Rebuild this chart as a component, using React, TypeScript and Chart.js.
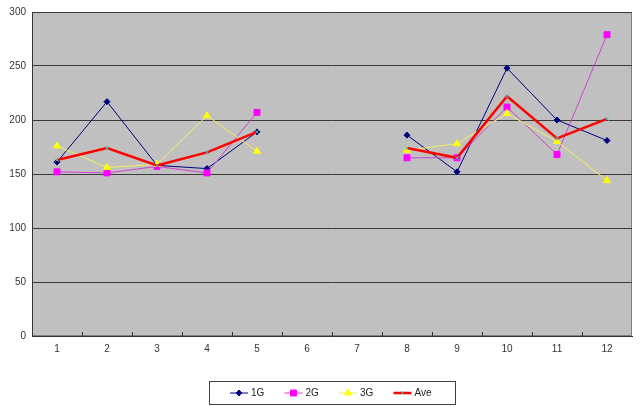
import React, { useEffect, useRef } from "react";
import { Chart, registerables } from "chart.js";

Chart.register(...registerables);

const categories = ["1", "2", "3", "4", "5", "6", "7", "8", "9", "10", "11", "12"];
const seriesNames = ["1G", "2G", "3G", "Ave"];
const g1 = [161, 217, 158, 155, 189, null, null, 186, 152, 248, 200, 181];
const g2 = [152, 151, 157, 151, 207, null, null, 165, 165, 212, 168, 279];
const g3 = [176, 156, 159, 204, 171, null, null, 172, 178, 206, 180, 144];
const ave = [163, 174, 158, 170, 189, null, null, 174, 165, 222, 183, 201];
const yMin = 0;
const yMax = 300;
const yStep = 50;

const FONT = "'Liberation Sans', Arial, sans-serif";

function drawMarker(ctx: CanvasRenderingContext2D, style: string, x: number, y: number, r: number, fill: string, stroke: string) {
  ctx.save();
  ctx.fillStyle = fill;
  ctx.strokeStyle = stroke;
  ctx.lineWidth = 1;
  ctx.beginPath();
  if (style === "rectRot") {
    ctx.moveTo(x, y - r);
    ctx.lineTo(x + r, y);
    ctx.lineTo(x, y + r);
    ctx.lineTo(x - r, y);
    ctx.closePath();
    ctx.fill();
    ctx.stroke();
  } else if (style === "rect") {
    const s = r * Math.SQRT1_2;
    ctx.rect(x - s, y - s, 2 * s, 2 * s);
    ctx.fill();
    ctx.stroke();
  } else if (style === "triangle") {
    ctx.moveTo(x, y - r);
    ctx.lineTo(x + r * 0.87, y + r * 0.5);
    ctx.lineTo(x - r * 0.87, y + r * 0.5);
    ctx.closePath();
    ctx.fill();
    ctx.stroke();
  } else {
    const s = r * Math.SQRT1_2;
    ctx.moveTo(x - s, y - s);
    ctx.lineTo(x + s, y + s);
    ctx.moveTo(x + s, y - s);
    ctx.lineTo(x - s, y + s);
    ctx.stroke();
  }
  ctx.restore();
}

const backgroundPlugin = {
  id: "bgPlot",
  beforeDraw(chart: any) {
    const { ctx, chartArea, width, height } = chart;
    ctx.save();
    ctx.fillStyle = "#ffffff";
    ctx.fillRect(0, 0, width, height);
    ctx.fillStyle = "#c0c0c0";
    ctx.fillRect(chartArea.left, chartArea.top, chartArea.right - chartArea.left, chartArea.bottom - chartArea.top);
    ctx.strokeStyle = "#808080";
    ctx.lineWidth = 1;
    ctx.strokeRect(chartArea.left + 0.5, chartArea.top + 0.5, chartArea.right - chartArea.left - 1, chartArea.bottom - chartArea.top - 1);
    ctx.restore();
  },
};

const innerTicksPlugin = {
  id: "innerTicks",
  afterDatasetsDraw(chart: any) {
    const { ctx, chartArea } = chart;
    const xs = chart.scales.x;
    ctx.save();
    ctx.strokeStyle = "#333333";
    ctx.lineWidth = 1;
    for (let i = 1; i < categories.length; i++) {
      const x = Math.round(xs.getPixelForValue(i - 0.5)) + 0.5;
      ctx.beginPath();
      ctx.moveTo(x, chartArea.bottom);
      ctx.lineTo(x, chartArea.bottom - 4);
      ctx.stroke();
    }
    ctx.restore();
  },
};

const boxLegendPlugin = {
  id: "boxLegend",
  afterDraw(chart: any) {
    const { ctx, chartArea } = chart;
    const ds = chart.data.datasets;
    const lineLen = 18;
    const gap = 3;
    const stride = 54.5;
    const padL = 21;
    const padR = 23;
    ctx.save();
    ctx.font = `10px ${FONT}`;
    const lastW = ctx.measureText(ds[ds.length - 1].label).width;
    const innerW = stride * (ds.length - 1) + lineLen + gap + lastW;
    const boxW = Math.round(padL + innerW + padR);
    const boxH = 23;
    const cx = (chartArea.left + chartArea.right) / 2;
    const left = Math.round(cx - boxW / 2);
    const top = 381;
    ctx.fillStyle = "#ffffff";
    ctx.fillRect(left, top, boxW, boxH);
    ctx.strokeStyle = "#404040";
    ctx.lineWidth = 1;
    ctx.strokeRect(left + 0.5, top + 0.5, boxW, boxH);
    const cy = top + boxH / 2 + 0.5;
    ds.forEach((d: any, i: number) => {
      const x0 = left + padL + i * stride;
      ctx.strokeStyle = d.borderColor;
      ctx.lineWidth = d.borderWidth;
      ctx.beginPath();
      ctx.moveTo(x0, cy);
      ctx.lineTo(x0 + lineLen, cy);
      ctx.stroke();
      drawMarker(ctx, d.pointStyle, x0 + lineLen / 2, cy, d.pointRadius, d.pointBackgroundColor, d.pointBorderColor);
      ctx.fillStyle = "#222222";
      ctx.textBaseline = "middle";
      ctx.textAlign = "left";
      ctx.fillText(d.label, x0 + lineLen + gap, cy);
    });
    ctx.restore();
  },
};

export default function App() {
  const ref = useRef<HTMLCanvasElement | null>(null);
  useEffect(() => {
    if (!ref.current) return;
    const chart = new Chart(ref.current, {
      type: "line",
      data: {
        labels: categories,
        datasets: [
          {
            label: seriesNames[0],
            data: g1,
            borderColor: "#000080",
            borderWidth: 1,
            pointStyle: "rectRot",
            pointRadius: 3,
            pointBackgroundColor: "#000080",
            pointBorderColor: "#000080",
            order: 3,
          },
          {
            label: seriesNames[1],
            data: g2,
            borderColor: "#cc44cc",
            borderWidth: 1,
            pointStyle: "rect",
            pointRadius: 4.2,
            pointBackgroundColor: "#ff00ff",
            pointBorderColor: "#ff00ff",
            order: 2,
          },
          {
            label: seriesNames[2],
            data: g3,
            borderColor: "#f4f060",
            borderWidth: 1,
            pointStyle: "triangle",
            pointRadius: 4,
            pointBackgroundColor: "#ffff00",
            pointBorderColor: "#ffff00",
            order: 1,
          },
          {
            label: seriesNames[3],
            data: ave,
            borderColor: "#ff0000",
            borderWidth: 2.5,
            pointStyle: "crossRot",
            pointRadius: 2.5,
            pointBackgroundColor: "#40c0c0",
            pointBorderColor: "#40c0c0",
            pointBorderWidth: 1,
            order: 0,
          },
        ] as any,
      },
      options: {
        animation: false,
        responsive: true,
        maintainAspectRatio: false,
        spanGaps: false,
        layout: { padding: { left: 0, top: 11, right: 8, bottom: 0 } },
        plugins: {
          legend: { display: false },
          tooltip: { enabled: false },
        },
        elements: { line: { tension: 0 } },
        scales: {
          x: {
            type: "category",
            offset: true,
            grid: { display: false, drawTicks: false },
            border: { display: true, color: "#333333", width: 1 },
            ticks: {
              color: "#333333",
              font: { family: FONT, size: 10 },
              padding: 7,
              maxRotation: 0,
              autoSkip: false,
            },
            afterFit: (s: any) => {
              s.height = 71;
            },
          },
          y: {
            min: yMin,
            max: yMax,
            grid: { color: "#3a3a3a", lineWidth: 1, drawTicks: false },
            border: { display: true, color: "#333333", width: 1 },
            ticks: {
              stepSize: yStep,
              color: "#333333",
              font: { family: FONT, size: 10 },
              padding: 6,
            },
            afterFit: (s: any) => {
              s.width = 32;
            },
          },
        },
      },
      plugins: [backgroundPlugin, innerTicksPlugin, boxLegendPlugin],
    });
    return () => chart.destroy();
  }, []);
  return (
    <div style={{ position: "fixed", left: 0, top: 0, width: 640, height: 407, background: "#fff" }}>
      <canvas ref={ref} />
    </div>
  );
}
